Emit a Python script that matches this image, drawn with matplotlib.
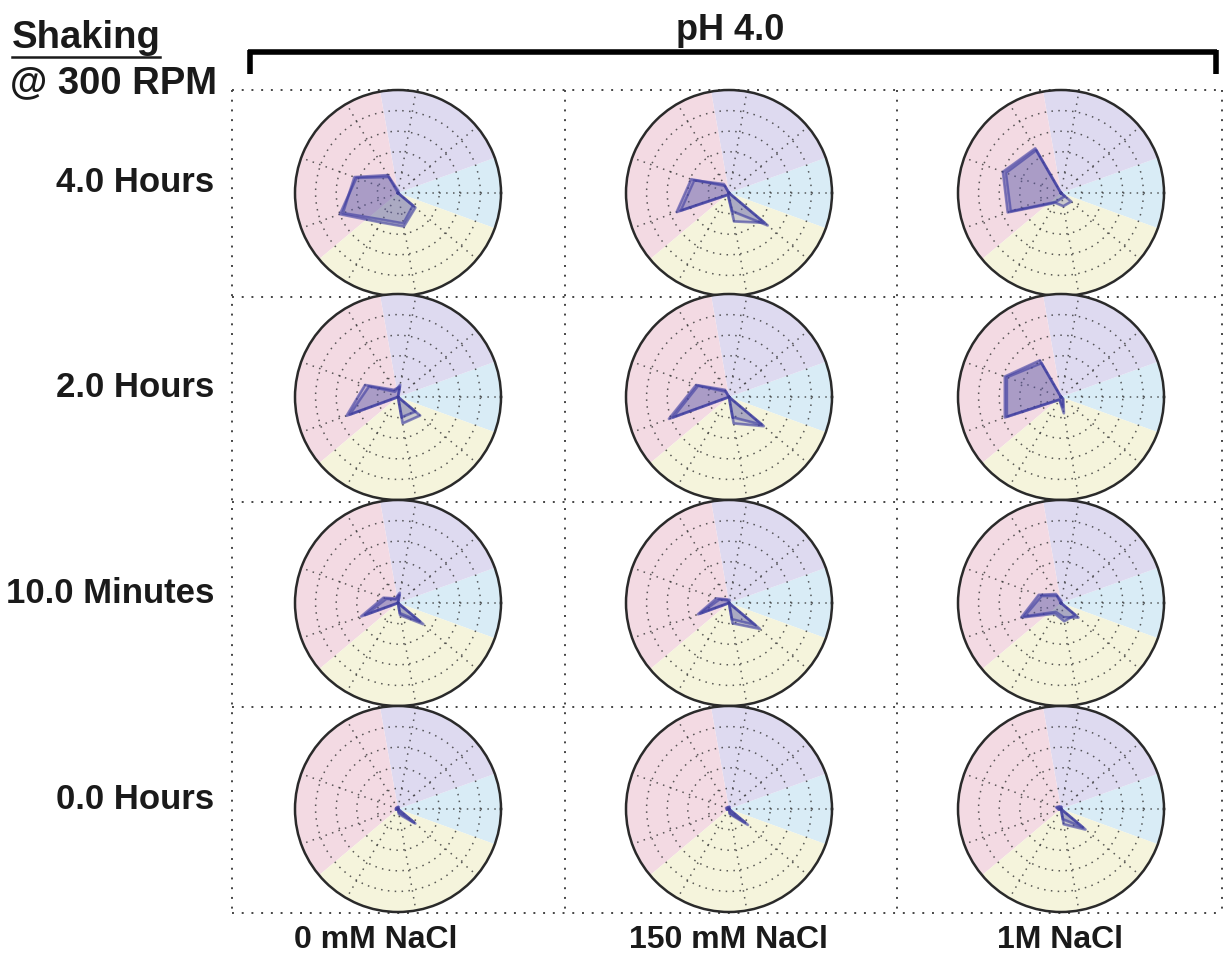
import numpy as np
import matplotlib
matplotlib.use("Agg")
import matplotlib.pyplot as plt

# radar spokes (degrees, counter-clockwise from the right)
spoke_angles = [0, 40, 80, 120, 160, 200, 240, 280, 320]

# background sectors: (start deg, end deg, colour)
sector_edges = [(-20, 20), (20, 100), (100, 220), (220, 340)]
sector_colors = ["#d9ecf6", "#dedaf0", "#f3dae3", "#f5f4dc"]

row_labels = ["4.0 Hours", "2.0 Hours", "10.0 Minutes", "0.0 Hours"]
col_labels = ["0 mM NaCl", "150 mM NaCl", "1M NaCl"]

# two replicates per cell, values on the spokes above (0..1)
rep_a = [
    [[0, 0, 0, 0.18, 0.43, 0.60, 0.33, 0.33, 0.22],
     [0, 0, 0, 0.08, 0.39, 0.54, 0.02, 0.18, 0.49],
     [0, 0, 0, 0.50, 0.60, 0.55, 0.11, 0.13, 0.13]],
    [[0, 0, 0.10, 0.08, 0.34, 0.53, 0.00, 0.26, 0.28],
     [0, 0, 0, 0.08, 0.34, 0.62, 0.00, 0.26, 0.44],
     [0, 0, 0, 0.41, 0.58, 0.58, 0.03, 0.16, 0.03]],
    [[0, 0, 0.10, 0.05, 0.15, 0.38, 0.00, 0.12, 0.32],
     [0, 0, 0.03, 0.04, 0.13, 0.32, 0.00, 0.20, 0.39],
     [0, 0, 0.02, 0.10, 0.23, 0.41, 0.12, 0.18, 0.18]],
    [[0, 0, 0.02, 0.02, 0.02, 0.02, 0.00, 0.05, 0.22],
     [0, 0, 0.02, 0.02, 0.03, 0.02, 0.00, 0.05, 0.24],
     [0, 0, 0.02, 0.03, 0.05, 0.02, 0.00, 0.15, 0.31]],
]
rep_b = [
    [[0, 0, 0.02, 0.20, 0.45, 0.57, 0.30, 0.30, 0.19],
     [0, 0, 0, 0.10, 0.36, 0.50, 0.02, 0.28, 0.45],
     [0, 0, 0, 0.48, 0.57, 0.52, 0.10, 0.05, 0.05]],
    [[0, 0, 0.12, 0.06, 0.30, 0.50, 0.00, 0.20, 0.22],
     [0, 0, 0, 0.06, 0.32, 0.58, 0.00, 0.20, 0.42],
     [0, 0, 0, 0.38, 0.56, 0.56, 0.03, 0.10, 0.02]],
    [[0, 0, 0.08, 0.04, 0.12, 0.34, 0.00, 0.10, 0.28],
     [0, 0, 0.00, 0.03, 0.10, 0.30, 0.00, 0.16, 0.33],
     [0, 0, 0.00, 0.08, 0.20, 0.38, 0.10, 0.14, 0.22]],
    [[0, 0, 0.02, 0.01, 0.02, 0.02, 0.00, 0.03, 0.20],
     [0, 0, 0.02, 0.02, 0.02, 0.02, 0.00, 0.04, 0.20],
     [0, 0, 0.02, 0.02, 0.04, 0.02, 0.00, 0.10, 0.28]],
]

W, H = 1225, 955
col_x = [398, 729, 1061]
row_y = [193, 397, 603, 809]
R = 103
grid_x = [232, 565, 897, 1222]
grid_y = [90, 297, 502, 707, 913]


def draw_radar(fig, cx, cy, vals_a, vals_b):
    """One radar cell centred on pixel (cx, cy)."""
    rect = [(cx - R) / W, 1 - (cy + R) / H, 2 * R / W, 2 * R / H]
    ax = fig.add_axes(rect, projection="polar")
    ax.set_facecolor("white")

    for (a0, a1), c in zip(sector_edges, sector_colors):
        w = np.deg2rad(a1 - a0)
        ax.bar(np.deg2rad(a0) + w / 2, 1.0, width=w, color=c,
               edgecolor="none", zorder=0)

    theta = np.deg2rad(spoke_angles + [spoke_angles[0]])
    for vals in (vals_a, vals_b):
        r = list(vals) + [vals[0]]
        ax.fill(theta, r, color="#5c5aa8", alpha=0.28, zorder=3)
        ax.plot(theta, r, color="#3a3aa0", lw=2.0, alpha=0.55, zorder=4)

    ax.set_ylim(0, 1)
    ax.set_yticks([0.2, 0.4, 0.6, 0.8])
    ax.set_yticklabels([])
    ax.set_xticks(np.deg2rad(spoke_angles))
    ax.set_xticklabels([])
    ax.grid(True, color="#333333", lw=1.1, linestyle=(0, (1, 3.5)), alpha=0.8)
    ax.set_axisbelow(False)
    ax.spines["polar"].set_linewidth(1.8)
    ax.spines["polar"].set_color("#2a2a2a")
    return ax


fig = plt.figure(figsize=(W / 100, H / 100), dpi=100)
bg = fig.add_axes([0, 0, 1, 1])
bg.set_xlim(0, W)
bg.set_ylim(H, 0)
bg.axis("off")

dot = dict(color="#444444", lw=1.4, linestyle=(0, (1, 4)))
for x in grid_x:
    bg.plot([x, x], [grid_y[0], grid_y[-1]], **dot)
for y in grid_y:
    bg.plot([grid_x[0], grid_x[-1]], [y, y], **dot)

for i, cy in enumerate(row_y):
    for j, cx in enumerate(col_x):
        draw_radar(fig, cx, cy, rep_a[i][j], rep_b[i][j])

font = dict(family="Liberation Sans", weight="bold", color="#1a1a1a")

# header
bg.text(730, 30, "pH 4.0", ha="center", va="center", fontsize=26, **font)
bg.plot([248, 1217], [52, 52], color="black", lw=4, solid_capstyle="butt")
bg.plot([249.5, 249.5], [50, 74], color="black", lw=4, solid_capstyle="butt")
bg.plot([1215.5, 1215.5], [50, 74], color="black", lw=4, solid_capstyle="butt")

bg.text(12, 48, "Shaking", ha="left", va="baseline", fontsize=27.5, **font)
bg.plot([12, 160], [57, 57], color="#1a1a1a", lw=1.8)
bg.text(10, 93, "@ 300 RPM", ha="left", va="baseline", fontsize=27.5, **font)

for label, cy in zip(row_labels, row_y):
    bg.text(214, cy - 10, label, ha="right", va="center", fontsize=25, **font)

for label, x in zip(col_labels, [376, 728, 1060]):
    bg.text(x, 940, label, ha="center", va="center", fontsize=23, **font)

fig.savefig("out.png", dpi=100)
